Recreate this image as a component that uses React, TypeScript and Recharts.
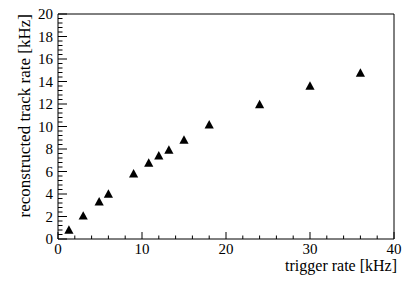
import React from 'react';
import { ScatterChart, Scatter, XAxis, YAxis, Label } from 'recharts';

const triggerRate = [1.3, 3, 4.9, 6, 9, 10.8, 12, 13.2, 15, 18, 24, 30, 36];
const trackRate = [0.85, 2.1, 3.35, 4.05, 5.85, 6.8, 7.45, 7.95, 8.85, 10.2, 12.0, 13.65, 14.8];

const xMajorTicks = [0, 10, 20, 30, 40];
const yMajorTicks = [0, 2, 4, 6, 8, 10, 12, 14, 16, 18, 20];

const X_MINOR_STEP = 2;
const Y_MINOR_STEP = 0.4;

const SERIF = "'Liberation Serif', 'DejaVu Serif', serif";
const tickStyle = { fontFamily: SERIF, fontSize: 15 };
const yTitleStyle = { fontFamily: SERIF, fontSize: 17 };
const xTitleStyle = { fontFamily: SERIF, fontSize: 16 };

const steps = (max: number, step: number) => {
  const out: number[] = [];
  for (let i = 0; i * step <= max + 1e-9; i++) out.push(+(i * step).toFixed(4));
  return out;
};

const xTicks = steps(40, X_MINOR_STEP);
const yTicks = steps(20, Y_MINOR_STEP);

const isMajor = (v: number, majors: number[]) => majors.some((m) => Math.abs(m - v) < 1e-6);

const data = triggerRate.map((x, i) => ({ x, y: trackRate[i] }));

const BottomTick = (props: any) => {
  const { x, y, payload } = props;
  const major = isMajor(payload.value, xMajorTicks);
  return (
    <g>
      <line x1={x} x2={x} y1={y} y2={y - (major ? 7 : 3.5)} stroke="#000" />
      {major && (
        <text x={x} y={y + 15} textAnchor="middle" style={tickStyle} fill="#000">
          {payload.value}
        </text>
      )}
    </g>
  );
};

const TopTick = (props: any) => {
  const { x, y, payload } = props;
  const major = isMajor(payload.value, xMajorTicks);
  return <line x1={x} x2={x} y1={y} y2={y + (major ? 6 : 3)} stroke="#000" />;
};

const LeftTick = (props: any) => {
  const { x, y, payload } = props;
  const major = isMajor(payload.value, yMajorTicks);
  return (
    <g>
      <line x1={x} x2={x + (major ? 9 : 4.5)} y1={y} y2={y} stroke="#000" />
      {major && (
        <text x={x - 5} y={y + 5} textAnchor="end" style={tickStyle} fill="#000">
          {payload.value}
        </text>
      )}
    </g>
  );
};

const RightTick = (props: any) => {
  const { x, y, payload } = props;
  const major = isMajor(payload.value, yMajorTicks);
  return <line x1={x} x2={x - (major ? 9 : 4.5)} y1={y} y2={y} stroke="#000" />;
};

const Triangle = (props: any) => {
  const { cx, cy } = props;
  const w = 4.6;
  const h = 4.2;
  return (
    <polygon
      points={`${cx - w},${cy + h} ${cx + w},${cy + h} ${cx},${cy - h}`}
      fill="#000"
    />
  );
};

export default function App() {
  return (
    <div style={{ position: 'absolute', left: 0, top: 0, background: '#fff' }}>
      <ScatterChart width={415} height={285} margin={{ top: 0, right: 0, bottom: 0, left: 0 }}>
        <XAxis
          xAxisId="bottom"
          dataKey="x"
          type="number"
          domain={[0, 40]}
          ticks={xTicks}
          interval={0}
          tickSize={0}
          tickMargin={0}
          height={46}
          stroke="#000"
          tick={<BottomTick />}
        >
          <Label
            content={(p: any) => {
              const vb = p.viewBox;
              return (
                <text x={vb.x + vb.width + 3} y={vb.y + 32} textAnchor="end" style={xTitleStyle} fill="#000">
                  trigger rate [kHz]
                </text>
              );
            }}
          />
        </XAxis>
        <XAxis
          xAxisId="top"
          orientation="top"
          type="number"
          domain={[0, 40]}
          ticks={xTicks}
          interval={0}
          tickSize={0}
          tickMargin={0}
          height={14}
          stroke="#000"
          tick={<TopTick />}
        />
        <YAxis
          yAxisId="left"
          dataKey="y"
          type="number"
          domain={[0, 20]}
          ticks={yTicks}
          interval={0}
          tickSize={0}
          tickMargin={0}
          width={58}
          stroke="#000"
          tick={<LeftTick />}
        >
          <Label
            content={(p: any) => {
              const vb = p.viewBox;
              const lx = vb.x + 30;
              const ly = vb.y;
              return (
                <text
                  x={lx}
                  y={ly}
                  transform={`rotate(-90 ${lx} ${ly})`}
                  textAnchor="end"
                  style={yTitleStyle}
                  fill="#000"
                >
                  reconstructed track rate [kHz]
                </text>
              );
            }}
          />
        </YAxis>
        <YAxis
          yAxisId="right"
          orientation="right"
          type="number"
          domain={[0, 20]}
          ticks={yTicks}
          interval={0}
          tickSize={0}
          tickMargin={0}
          width={21}
          stroke="#000"
          tick={<RightTick />}
        />
        <Scatter
          xAxisId="bottom"
          yAxisId="left"
          data={data}
          shape={<Triangle />}
          isAnimationActive={false}
        />
      </ScatterChart>
    </div>
  );
}
